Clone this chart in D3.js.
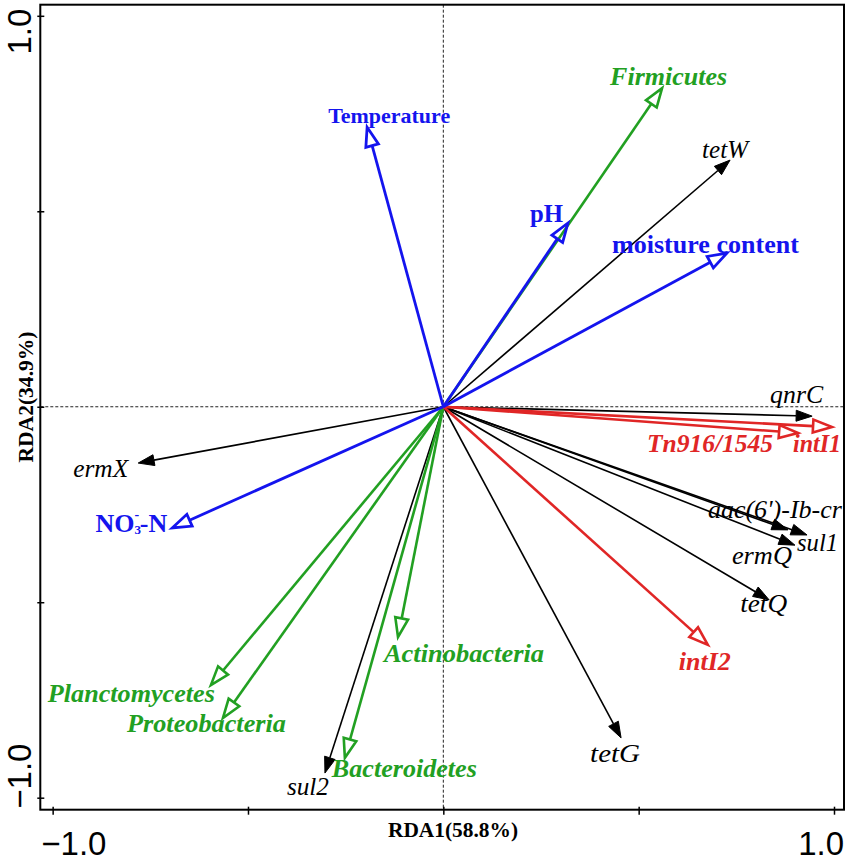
<!DOCTYPE html>
<html><head><meta charset="utf-8">
<script src="https://cdn.jsdelivr.net/npm/d3@7"></script>
<style>
html,body{margin:0;padding:0;background:#fff;}
svg{display:block;}
</style></head>
<body>
<svg id="chart" width="851" height="861"></svg>
<script>
// ---- data ----
const envNames = ["Temperature", "pH", "moisture content", "NO3-N"];
const envRDA1  = [-0.195, 0.319, 0.726, -0.694];
const envRDA2  = [0.715, 0.470, 0.393, -0.310];

const phylaNames = ["Firmicutes", "Actinobacteria", "Planctomycetes", "Proteobacteria", "Bacteroidetes"];
const phylaRDA1  = [0.560, -0.116, -0.595, -0.564, -0.252];
const phylaRDA2  = [0.815, -0.589, -0.712, -0.796, -0.898];

const argNames = ["tetW", "qnrC", "ermX", "aac(6')-Ib-cr", "sul1", "ermQ", "tetQ", "tetG", "sul2"];
const argRDA1  = [0.734, 0.944, -0.781, 0.882, 0.931, 0.900, 0.834, 0.455, -0.303];
const argRDA2  = [0.631, -0.024, -0.144, -0.315, -0.328, -0.354, -0.494, -0.847, -0.937];

const mgeNames = ["intI1", "Tn916/1545", "intI2"];
const mgeRDA1  = [0.995, 0.908, 0.677];
const mgeRDA2  = [-0.052, -0.067, -0.609];

const tickValues = [-1, -0.5, 0, 0.5, 1];
const axisTitleX = "RDA1(58.8%)";
const axisTitleY = "RDA2(34.9%)";

// ---- layout: label offset from arrow tip [dx, dy, anchor, width] ----
const labelLayout = {
  "Temperature": [-39, -4, "start", 122],
  "pH": [-38, -1, "start", 33],
  "moisture content": [-115, 0, "start", 187],
  "NO3-N": [-5, 4, "end", 0],
  "Firmicutes": [-52, -3, "start", 117],
  "Actinobacteria": [-14, 25, "start", 160],
  "Planctomycetes": [4, 17, "end", 167],
  "Proteobacteria": [-96, 14, "start", 159],
  "Bacteroidetes": [-13, 19, "start", 145],
  "tetW": [-28, -2, "start", 46],
  "qnrC": [-42, -13, "start", 53],
  "ermX": [-10, 14, "end", 55],
  "aac(6')-Ib-cr": [-80, -12, "start", 134],
  "sul1": [-10, 16, "start", 41],
  "ermQ": [-63, 19, "start", 60],
  "tetQ": [-29, 12, "start", 47],
  "tetG": [-31, 24, "start", 50],
  "sul2": [-38, 22, "start", 42],
  "intI1": [-39, 25, "start", 48],
  "Tn916/1545": [-151, 19, "start", 126],
  "intI2": [-29, 25, "start", 52]
};

const BLUE = "#1414ee", GREEN = "#22a022", RED = "#e02626", BLACK = "#000";
const SERIF = "'Liberation Serif','Times New Roman',serif";
const SANS = "'Liberation Sans',Arial,sans-serif";

const svg = d3.select("#chart");
const x = d3.scaleLinear().domain([-1.0316, 1.0256]).range([40.3, 844]);
const y = d3.scaleLinear().domain([-1.0307, 1.0284]).range([809.7, 4.7]);

// dashed zero lines
svg.append("line").attr("x1", x(-1.0316)).attr("x2", x(1.0256)).attr("y1", y(0)).attr("y2", y(0))
  .attr("stroke", "#222").attr("stroke-width", 1).attr("stroke-dasharray", "3,2");
svg.append("line").attr("x1", x(0)).attr("x2", x(0)).attr("y1", y(1.0284)).attr("y2", y(-1.0307))
  .attr("stroke", "#222").attr("stroke-width", 1).attr("stroke-dasharray", "3,2");

// frame
svg.append("rect").attr("x", x(-1.0316)).attr("y", y(1.0284))
  .attr("width", x(1.0256) - x(-1.0316)).attr("height", y(-1.0307) - y(1.0284))
  .attr("fill", "none").attr("stroke", "#000").attr("stroke-width", 2);

// axes (ticks only)
const gx = svg.append("g").attr("transform", `translate(0,${y(-1.0307)})`)
  .call(d3.axisBottom(x).tickValues(tickValues).tickSize(5).tickFormat(""));
gx.select(".domain").remove();
gx.selectAll(".tick line").attr("y1", -3).attr("stroke-width", 1.5);
const gy = svg.append("g").attr("transform", `translate(${x(-1.0316)},0)`)
  .call(d3.axisLeft(y).tickValues(tickValues).tickSize(3).tickFormat(""));
gy.select(".domain").remove();
gy.selectAll(".tick line").attr("x1", 4).attr("stroke-width", 1.5);

// tick labels (only ±1.0 shown, clamped to the frame)
const fmt = d3.format(".1f");
svg.append("text").attr("x", x(-1.0316) + 1).attr("y", 855).attr("text-anchor", "start")
  .attr("font-family", SANS).attr("font-size", 33).text(fmt(tickValues[0]));
svg.append("text").attr("x", x(1.0256)).attr("y", 855).attr("text-anchor", "end")
  .attr("font-family", SANS).attr("font-size", 33).text(fmt(tickValues[4]));
svg.append("text").attr("transform", `translate(31,${y(-1.0307) - 1}) rotate(-90)`).attr("text-anchor", "start")
  .attr("font-family", SANS).attr("font-size", 33).text(fmt(tickValues[0]));
svg.append("text").attr("transform", `translate(31,${y(1.0284) + 4}) rotate(-90)`).attr("text-anchor", "end")
  .attr("font-family", SANS).attr("font-size", 33).text(fmt(tickValues[4]));

// axis titles
svg.append("text").attr("x", 453).attr("y", 837).attr("text-anchor", "middle")
  .attr("font-family", SERIF).attr("font-weight", "bold").attr("font-size", 20)
  .attr("textLength", 130).attr("lengthAdjust", "spacingAndGlyphs").text(axisTitleX);
svg.append("text").attr("transform", `translate(33,397) rotate(-90)`).attr("text-anchor", "middle")
  .attr("font-family", SERIF).attr("font-weight", "bold").attr("font-size", 21)
  .attr("textLength", 131).attr("lengthAdjust", "spacingAndGlyphs").text(axisTitleY);

// arrows
function drawArrows(names, v1, v2, opts) {
  const g = svg.append("g");
  const ox = x(0), oy = y(0);
  names.forEach((name, i) => {
    const tx = x(v1[i]), ty = y(v2[i]);
    const dx = tx - ox, dy = ty - oy, len = Math.hypot(dx, dy);
    const ux = dx / len, uy = dy / len, nx = -uy, ny = ux;
    const bx = tx - ux * opts.headLen, by = ty - uy * opts.headLen;
    const hw = opts.headW / 2;
    g.append("line").attr("x1", ox).attr("y1", oy).attr("x2", bx).attr("y2", by)
      .attr("stroke", opts.color).attr("stroke-width", opts.lw);
    const pts = [[tx, ty], [bx + nx * hw, by + ny * hw], [bx - nx * hw, by - ny * hw]];
    g.append("path").attr("d", d3.line()(pts) + "Z")
      .attr("fill", opts.filled ? opts.color : "none")
      .attr("stroke", opts.color).attr("stroke-width", opts.filled ? 1 : opts.lw)
      .attr("stroke-linejoin", "miter");
  });
  return g;
}
function drawLabels(names, v1, v2, opts) {
  const g = svg.append("g");
  names.forEach((name, i) => {
    const lay = labelLayout[name];
    const t = g.append("text").attr("x", x(v1[i]) + lay[0]).attr("y", y(v2[i]) + lay[1])
      .attr("text-anchor", lay[2]).attr("fill", opts.color)
      .attr("font-family", SERIF).attr("font-size", (opts.sizes && opts.sizes[name]) || opts.size)
      .attr("font-weight", opts.bold ? "bold" : "normal")
      .attr("font-style", opts.italic ? "italic" : "normal");
    if (name === "NO3-N") {
      t.append("tspan").text("NO");
      t.append("tspan").attr("font-size", 13).attr("dy", 2).text("3");
      t.append("tspan").attr("font-size", 14).attr("dx", -6.5).attr("dy", -14.5).text("-");
      t.append("tspan").attr("dx", 0.5).attr("dy", 12.5).text("-N");
    } else {
      t.attr("textLength", lay[3]).attr("lengthAdjust", "spacingAndGlyphs").text(name);
    }
  });
}

drawArrows(argNames, argRDA1, argRDA2, {color: BLACK, lw: 1.6, headLen: 16, headW: 11, filled: true});
drawArrows(phylaNames, phylaRDA1, phylaRDA2, {color: GREEN, lw: 2.6, headLen: 19, headW: 13, filled: false});
drawArrows(mgeNames, mgeRDA1, mgeRDA2, {color: RED, lw: 2.6, headLen: 19, headW: 13, filled: false});
drawArrows(envNames, envRDA1, envRDA2, {color: BLUE, lw: 2.8, headLen: 19, headW: 13, filled: false});

drawLabels(argNames, argRDA1, argRDA2, {color: BLACK, size: 26, bold: false, italic: true});
drawLabels(phylaNames, phylaRDA1, phylaRDA2, {color: GREEN, size: 26, bold: true, italic: true, sizes: {"Firmicutes": 25}});
drawLabels(mgeNames, mgeRDA1, mgeRDA2, {color: RED, size: 26, bold: true, italic: true});
drawLabels(envNames, envRDA1, envRDA2, {color: BLUE, size: 26, bold: true, italic: false, sizes: {"Temperature": 22}});
</script>
</body></html>
